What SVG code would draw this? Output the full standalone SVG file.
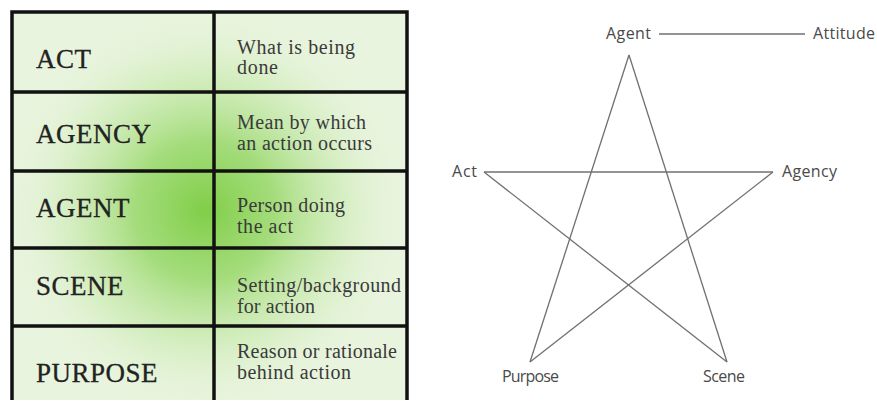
<svg xmlns="http://www.w3.org/2000/svg" width="877" height="402" viewBox="0 0 877 402">
  <defs>
    <radialGradient id="glow" cx="205" cy="210" r="200" gradientUnits="userSpaceOnUse">
      <stop offset="0" stop-color="#80ce48" stop-opacity="1"/>
      <stop offset="0.35" stop-color="#98d86a" stop-opacity="0.85"/>
      <stop offset="0.7" stop-color="#c6e9ab" stop-opacity="0.5"/>
      <stop offset="1" stop-color="#e6f4da" stop-opacity="0"/>
    </radialGradient>
    <style>
      .grid { stroke: #111; stroke-width: 3.5; fill: none; }
      .term { font-family: "Liberation Serif", "DejaVu Serif", serif; font-size: 27px; fill: #222; stroke: #222; stroke-width: 0.3; letter-spacing: 0.5px; }
      .desc { font-family: "Liberation Serif", "DejaVu Serif", serif; font-size: 20px; fill: #3a3a3a; }
      .edge { stroke: #707070; stroke-width: 1.3; fill: none; }
      .lbl { font-family: "Open Sans", "DejaVu Sans", sans-serif; font-size: 16px; fill: #4a4a4a; }
    </style>
  </defs>

  <rect width="877" height="402" fill="#ffffff"/>

  <!-- pentad table -->
  <g id="table">
    <rect x="12" y="12" width="395" height="388" fill="#e8f4dd"/>
    <rect x="12" y="12" width="395" height="388" fill="url(#glow)"/>
    <path class="grid" d="M12 400 V12 H407 V400 M214 12 V400 M12 92 H407 M12 171 H407 M12 248 H407 M12 326 H407"/>
  </g>

  <g id="row-act">
    <text class="term" x="36" y="68">ACT</text>
    <text class="desc" x="237" y="54" textLength="118">What is being</text>
    <text class="desc" x="237" y="74" textLength="41">done</text>
  </g>
  <g id="row-agency">
    <text class="term" x="36" y="143">AGENCY</text>
    <text class="desc" x="237" y="129" textLength="129">Mean by which</text>
    <text class="desc" x="237" y="150" textLength="135">an action occurs</text>
  </g>
  <g id="row-agent">
    <text class="term" x="36" y="217">AGENT</text>
    <text class="desc" x="237" y="212" textLength="108">Person doing</text>
    <text class="desc" x="237" y="233" textLength="56">the act</text>
  </g>
  <g id="row-scene">
    <text class="term" x="36" y="295">SCENE</text>
    <text class="desc" x="237" y="292" textLength="164">Setting/background</text>
    <text class="desc" x="237" y="313" textLength="78">for action</text>
  </g>
  <g id="row-purpose">
    <text class="term" x="36" y="382">PURPOSE</text>
    <text class="desc" x="237" y="358" textLength="160">Reason or rationale</text>
    <text class="desc" x="237" y="379" textLength="114">behind action</text>
  </g>

  <!-- pentagram connectors -->
  <g id="connectors">
    <line class="edge" x1="629" y1="55" x2="530" y2="362"/>
    <line class="edge" x1="629" y1="55" x2="727" y2="362"/>
    <line class="edge" x1="484" y1="172" x2="773" y2="172"/>
    <line class="edge" x1="484" y1="172" x2="727" y2="362"/>
    <line class="edge" x1="773" y1="172" x2="530" y2="362"/>
    <line class="edge" x1="659" y1="34" x2="805" y2="34"/>
  </g>

  <g id="node-agent"><text class="lbl" x="606" y="39" textLength="45">Agent</text></g>
  <g id="node-attitude"><text class="lbl" x="813" y="39" textLength="62">Attitude</text></g>
  <g id="node-act"><text class="lbl" x="452" y="177" textLength="25">Act</text></g>
  <g id="node-agency"><text class="lbl" x="782" y="177" textLength="55">Agency</text></g>
  <g id="node-purpose"><text class="lbl" x="502" y="382" textLength="57">Purpose</text></g>
  <g id="node-scene"><text class="lbl" x="703" y="382" textLength="42">Scene</text></g>
</svg>
